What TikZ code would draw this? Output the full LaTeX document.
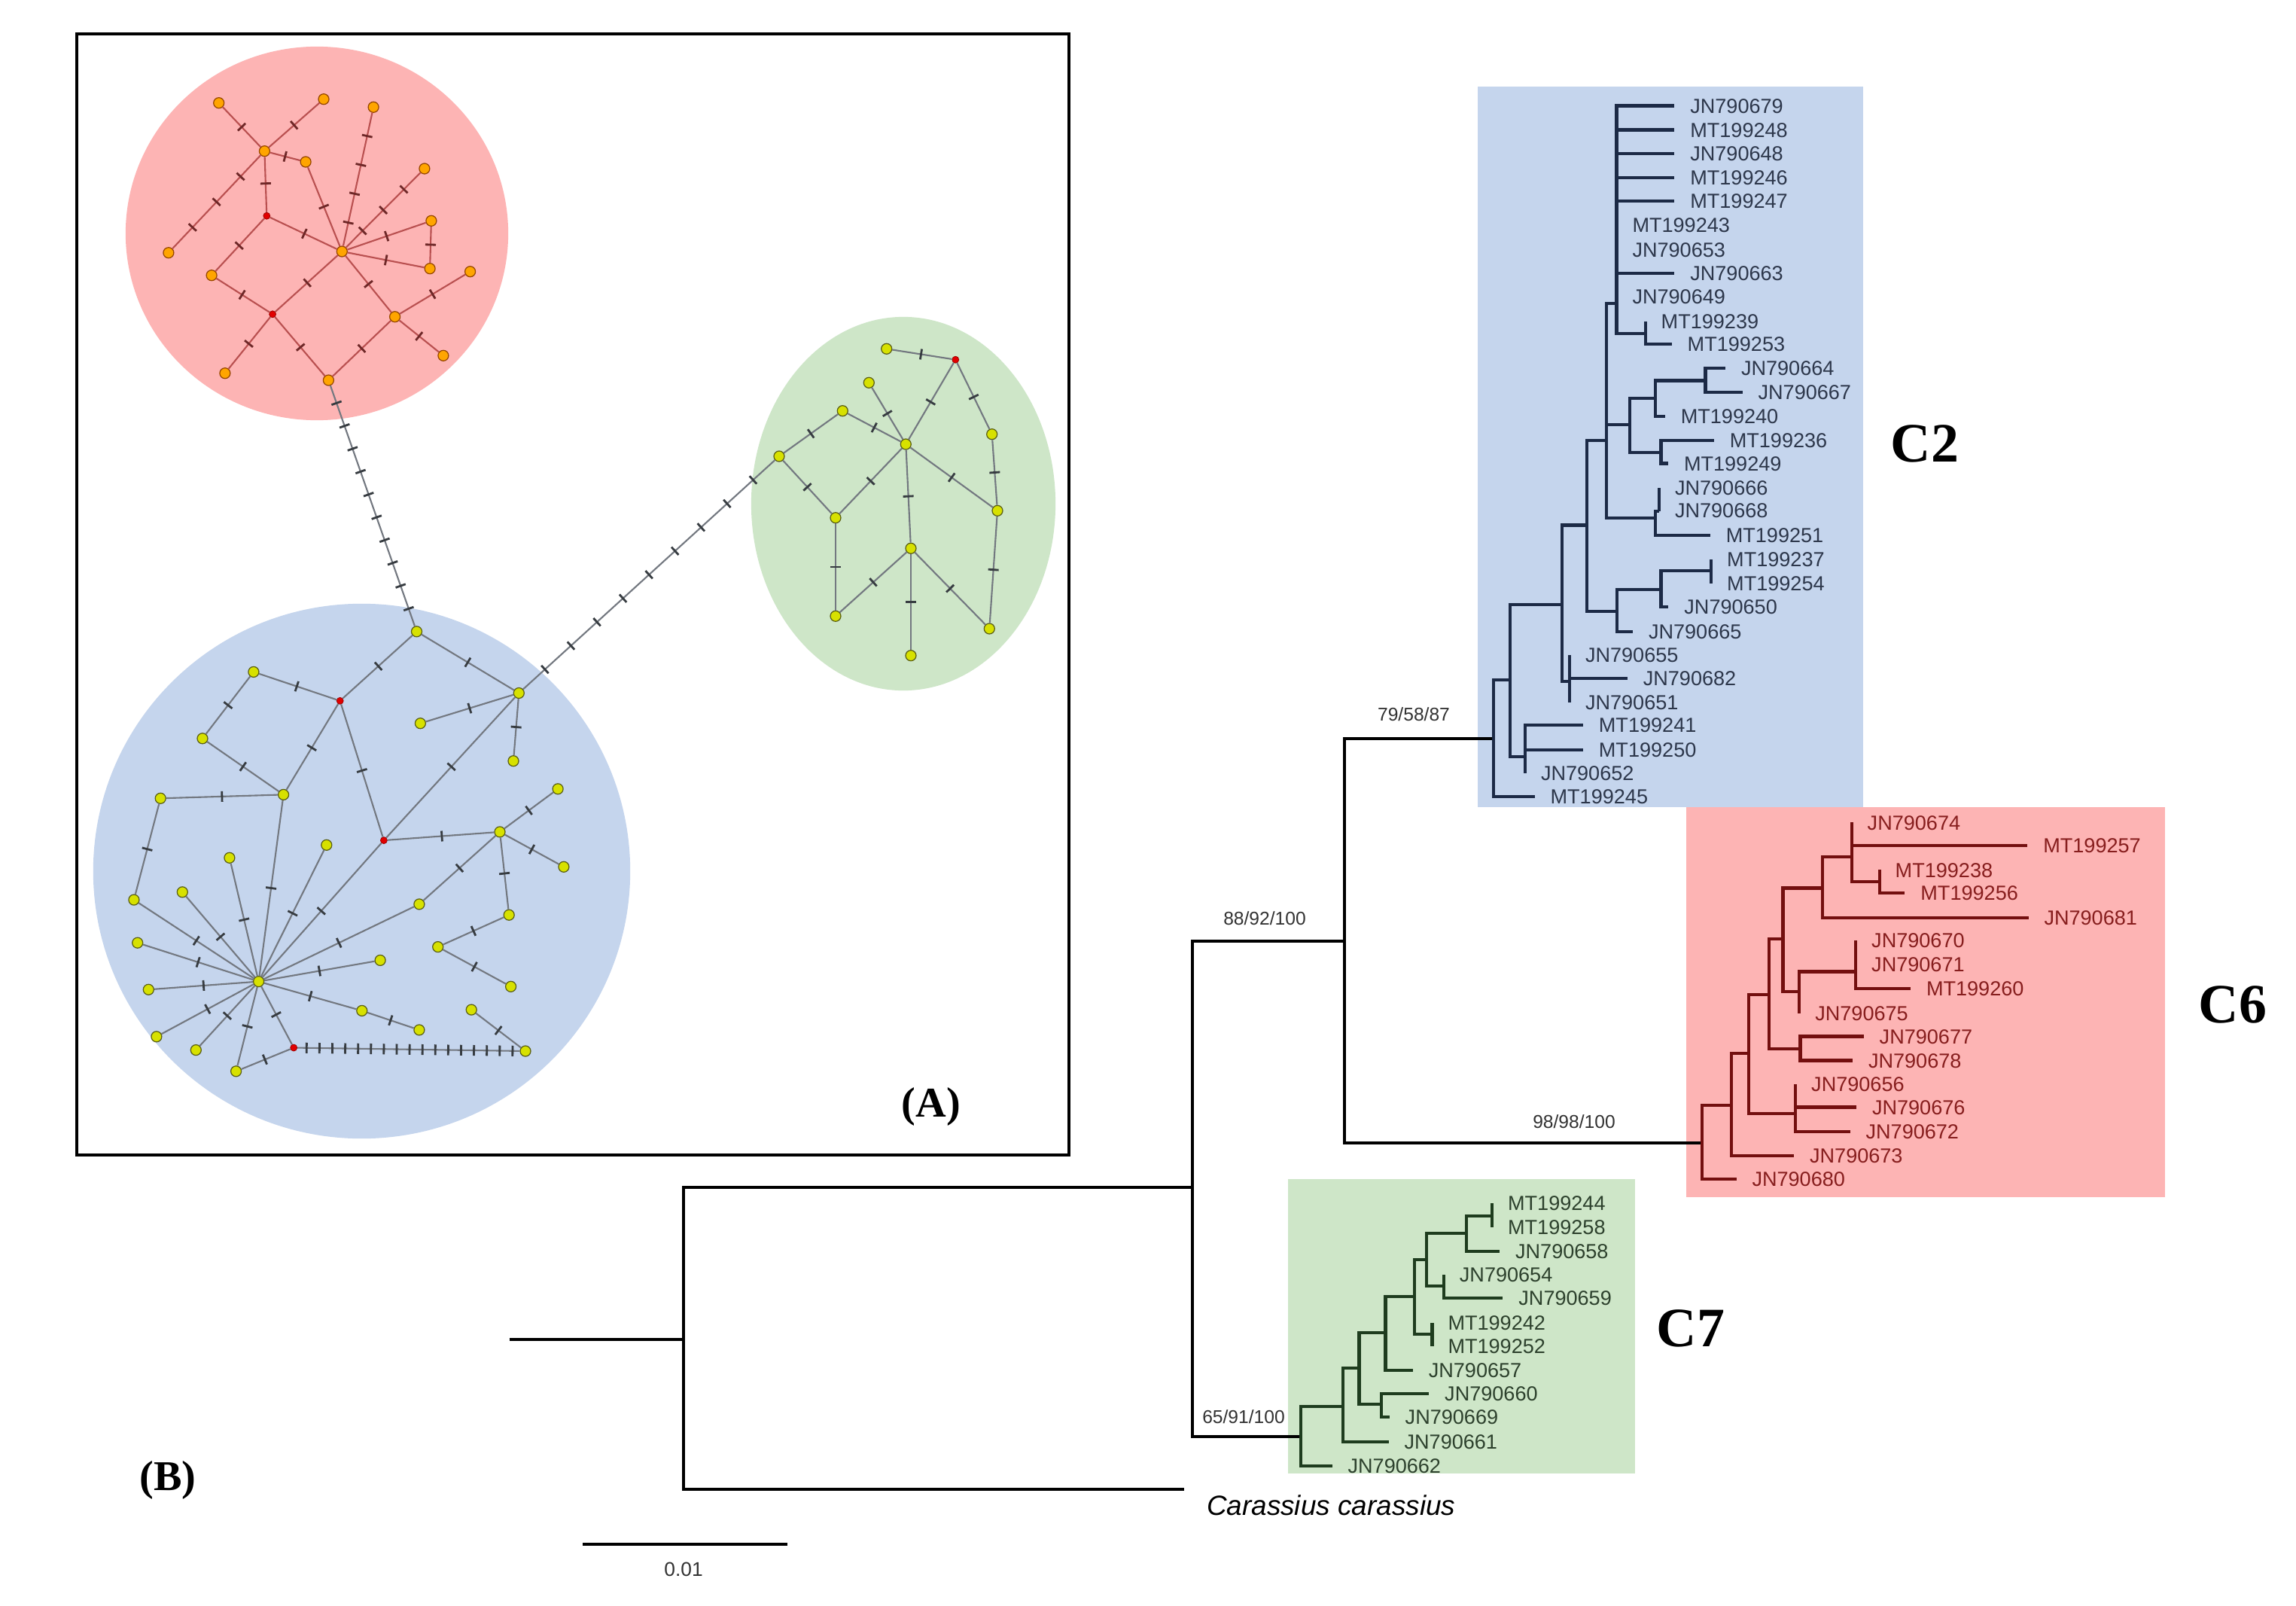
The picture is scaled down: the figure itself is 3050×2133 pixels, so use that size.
\documentclass[tikz,border=0pt]{standalone}
\usepackage{fontspec}
\newfontfamily\lsans{Liberation Sans}
\newfontfamily\lserif{Liberation Serif}
\usetikzlibrary{calc}
\definecolor{bgblue}{RGB}{197,213,237}
\definecolor{bgpink}{RGB}{253,180,180}
\definecolor{bggreen}{RGB}{206,230,200}
\definecolor{c2col}{RGB}{28,42,70}
\definecolor{c2txt}{RGB}{45,55,75}
\definecolor{c6col}{RGB}{115,15,15}
\definecolor{c6txt}{RGB}{135,30,30}
\definecolor{c7col}{RGB}{30,60,30}
\definecolor{c7txt}{RGB}{45,65,45}
\definecolor{orangefill}{RGB}{255,165,0}
\definecolor{orangeedge}{RGB}{150,70,0}
\definecolor{yelfill}{RGB}{215,225,0}
\definecolor{yeledge}{RGB}{90,95,20}
\definecolor{mvred}{RGB}{225,0,0}
\definecolor{redline}{RGB}{185,80,80}
\definecolor{redtick}{RGB}{110,40,40}
\definecolor{grayline}{RGB}{115,120,128}
\definecolor{graytick}{RGB}{55,60,65}
\definecolor{suptxt}{RGB}{50,50,50}

\newcommand\hedge[4]{%
  \draw[#1] (#2) -- (#3);
  \foreach \i in {1,...,#4}{%
    \coordinate (tk) at ($(#2)!{\i/(#4+1)}!(#3)$);
    \draw[#1tick] ($(tk)!0.07cm!90:(#3)$) -- ($(tk)!0.07cm!-90:(#3)$);
  }%
}

\tikzset{
  redge/.style={draw=redline, line width=0.6pt},
  redgetick/.style={draw=redtick, line width=0.8pt},
  gedge/.style={draw=grayline, line width=0.6pt},
  gedgetick/.style={draw=graytick, line width=0.8pt},
  hapo/.style={circle, draw=orangeedge, fill=orangefill, line width=0.35pt, inner sep=0pt, minimum size=0.14cm},
  hapy/.style={circle, draw=yeledge, fill=yelfill, line width=0.35pt, inner sep=0pt, minimum size=0.14cm},
  mv/.style={circle, draw=red!60!black, fill=mvred, line width=0.2pt, inner sep=0pt, minimum size=0.09cm},
  leaf/.style={anchor=west, inner xsep=0.21cm, inner ysep=0pt, outer sep=0pt, text height=5.5pt, text depth=0pt, font=\lsans\fontsize{7.7}{8}\selectfont},
  lfc2/.style={leaf, text=c2txt},
  lfc6/.style={leaf, text=c6txt},
  lfc7/.style={leaf, text=c7txt},
  brmain/.style={draw=black, line width=0.04cm},
  brc2/.style={draw=c2col, line width=0.042cm},
  brc6/.style={draw=c6col, line width=0.042cm},
  brc7/.style={draw=c7col, line width=0.042cm},
  sup/.style={text=suptxt, inner sep=0pt, font=\lsans\fontsize{7}{8}\selectfont},
  clab/.style={inner sep=0pt, font=\lserif\bfseries\fontsize{21}{24}\selectfont},
  plab/.style={inner sep=0pt, font=\lserif\bfseries\fontsize{16}{18}\selectfont}
}

\begin{document}
\begin{tikzpicture}[x=0.01cm, y=-0.01cm]
\useasboundingbox (0,0) rectangle (3050,2133);
\fill[white] (0,0) rectangle (3050,2133);

% ================= Panel A =================
\fill[bgpink] (421,310) ellipse [x radius=2.54cm, y radius=2.48cm];
\fill[bggreen] (1200,669) ellipse [x radius=2.02cm, y radius=2.48cm];
\fill[bgblue] (480.5,1157) ellipse [x radius=3.565cm, y radius=3.55cm];
\draw[line width=0.035cm] (102,45) rectangle (1420,1534);

% red cluster nodes
\node[hapo] (r1) at (290.7,136.7) {};
\node[hapo] (r2) at (430,131.7) {};
\node[hapo] (r3) at (496.1,142.3) {};
\node[hapo] (rA) at (351.4,200.7) {};
\node[hapo] (r5) at (406.1,215) {};
\node[hapo] (r6) at (563.9,224) {};
\node[mv]   (rm1) at (354.3,286.7) {};
\node[hapo] (r8) at (572.9,293.3) {};
\node[hapo] (r9) at (223.9,335.7) {};
\node[hapo] (rB) at (454.3,334) {};
\node[hapo] (r11) at (571.1,356.7) {};
\node[hapo] (r12) at (281.1,365.7) {};
\node[hapo] (r13) at (624.6,360.7) {};
\node[mv]   (rm2) at (362.1,417.3) {};
\node[hapo] (r15) at (524.6,420.7) {};
\node[hapo] (r16) at (298.9,495.7) {};
\node[hapo] (r17) at (588.9,472.3) {};
\node[hapo] (r18) at (436.4,505) {};

% green cluster nodes
\node[hapy] (g1) at (1177.7,463.3) {};
\node[mv]   (gR) at (1269.3,477.7) {};
\node[hapy] (g2) at (1154.3,508.3) {};
\node[hapy] (g3) at (1119.3,545.7) {};
\node[hapy] (g4) at (1317.7,576.7) {};
\node[hapy] (gH) at (1203.3,590) {};
\node[hapy] (g5) at (1035,606) {};
\node[hapy] (g6) at (1325,678.3) {};
\node[hapy] (g7) at (1110,687.7) {};
\node[hapy] (g8) at (1210,728.3) {};
\node[hapy] (g9) at (1110,818.3) {};
\node[hapy] (g10) at (1314.3,835) {};
\node[hapy] (g11) at (1210,870.7) {};

% blue cluster nodes
\node[hapy] (b1) at (553.5,838.8) {};
\node[hapy] (b2) at (689.3,920.5) {};
\node[mv]   (bR1) at (451.7,930.8) {};
\node[hapy] (b3) at (336.9,892.4) {};
\node[hapy] (b4) at (558.4,960.7) {};
\node[hapy] (b5) at (682,1010.7) {};
\node[hapy] (b6) at (269,980.8) {};
\node[hapy] (b7) at (376.6,1055.4) {};
\node[hapy] (b8) at (213.2,1060.3) {};
\node[hapy] (b9) at (741.1,1047.8) {};
\node[mv]   (bR2) at (509.9,1116.1) {};
\node[hapy] (b10) at (664,1104.9) {};
\node[hapy] (b11) at (433.8,1122.3) {};
\node[hapy] (b12) at (304.9,1139.3) {};
\node[hapy] (b13) at (748.9,1151.3) {};
\node[hapy] (b14) at (242.3,1184.8) {};
\node[hapy] (b15) at (177.9,1195.1) {};
\node[hapy] (b16) at (556.9,1200.9) {};
\node[hapy] (b17) at (676.2,1215.2) {};
\node[hapy] (b18) at (182.7,1252.2) {};
\node[hapy] (b19) at (581.7,1257.6) {};
\node[hapy] (b20) at (505.1,1275.4) {};
\node[hapy] (bH) at (343.6,1303.6) {};
\node[hapy] (b21) at (197.3,1314.3) {};
\node[hapy] (b22) at (678.6,1310.3) {};
\node[hapy] (b23) at (480.8,1342.4) {};
\node[hapy] (b24) at (626.2,1341.1) {};
\node[hapy] (b25) at (556.9,1367.9) {};
\node[hapy] (b26) at (207.9,1376.8) {};
\node[hapy] (b27) at (260.3,1394.6) {};
\node[mv]   (bR3) at (390.2,1391.5) {};
\node[hapy] (b28) at (698,1396) {};
\node[hapy] (b29) at (313.6,1422.8) {};

% red cluster edges
\foreach \a/\b/\k in {r1/rA/1, r2/rA/1, rA/r5/1, rA/r9/3, rA/rm1/1, rm1/rB/1, rm1/r12/1,
  r5/rB/1, r3/rB/4, r6/rB/3, r8/rB/1, r8/r11/1, r11/rB/1, rB/rm2/1, rB/r15/1,
  r12/rm2/1, rm2/r16/1, rm2/r18/1, r18/r15/1, r15/r13/1, r15/r17/1}
  {\hedge{redge}{\a}{\b}{\k}}

% green cluster edges
\foreach \a/\b/\k in {g1/gR/1, gR/gH/1, gR/g4/1, g2/gH/1, g3/gH/1, g5/g3/1, g5/g7/1,
  g7/gH/1, gH/g8/1, gH/g6/1, g4/g6/1, g6/g10/1, g7/g9/1, g9/g8/1, g8/g11/1, g8/g10/1}
  {\hedge{gedge}{\a}{\b}{\k}}

% blue cluster edges
\foreach \a/\b/\k in {b1/bR1/1, b1/b2/1, b3/bR1/1, b3/b6/1, b6/b7/1, bR1/b7/1, bR1/bR2/1,
  b4/b2/1, b2/b5/1, b2/bR2/1, b8/b7/1, b8/b15/1, bR2/b10/1, b10/b9/1, b10/b13/1,
  b10/b16/1, b10/b17/1, b17/b19/1, b19/b22/1, b24/b28/1, b7/bH/1, bR2/bH/1, b11/bH/1,
  b12/bH/1, b14/bH/1, b15/bH/1, b18/bH/1, b21/bH/1, b26/bH/1, b27/bH/1, b29/bH/1,
  bH/bR3/1, bH/b16/1, bH/b20/1, bH/b23/1, b23/b25/1, bR3/b29/1, bR3/b28/17}
  {\hedge{gedge}{\a}{\b}{\k}}

% long connecting edges
\hedge{gedge}{r18}{b1}{10}
\hedge{gedge}{g5}{b2}{9}

\node[plab] (labA) at (1237,1470) {(A)};

% ================= Panel B =================
\fill[bgblue] (1963,115) rectangle (2475,1072);
\fill[bgpink] (2240,1072) rectangle (2876,1590);
\fill[bggreen] (1711,1566) rectangle (2172,1957);

% main tree
\coordinate (rootL) at (676.6,1778.6);
\coordinate (R) at (908,1778.6);
\coordinate (U) at (1583.7,1577);
\coordinate (V) at (1786,1249.6);
\coordinate (c2r) at (1984.3,981);
\coordinate (c6r) at (2261,1517.7);
\coordinate (c7r) at (1727.9,1907.5);
\node[anchor=west, inner xsep=0.3cm, inner ysep=0pt, outer sep=0pt, text height=7.6pt, text depth=0pt,
  font=\lsans\itshape\fontsize{10.5}{12}\selectfont] (carass) at (1573,1998.7) {Carassius carassius};
\coordinate (carend) at (1573,1978.4);
\draw[brmain] (rootL) -- (R);
\draw[brmain] (R) |- (U);
\draw[brmain] (R) |- (carend);
\draw[brmain] (U) |- (V);
\draw[brmain] (U) |- (c7r);
\draw[brmain] (V) |- (c2r);
\draw[brmain] (V) |- (c6r);

\node[sup] (s1) at (1878,949) {79/58/87};
\node[sup] (s2) at (1680,1220) {88/92/100};
\node[sup] (s3) at (2091,1490) {98/98/100};
\node[sup] (s4) at (1652,1882) {65/91/100};

% scale bar
\coordinate (sb1) at (774,2050.5);
\coordinate (sb2) at (1046,2050.5);
\draw[brmain] (sb1) -- (sb2);
\node[sup, font=\lsans\fontsize{7.5}{8}\selectfont] (sblab) at (908,2084) {0.01};

% ---------- C2 ----------
\coordinate (c2a) at (2005.7,903.3);
\coordinate (c2m) at (2026,1005);
\coordinate (c2b) at (2075,803.3);
\coordinate (c2c) at (2108.3,697.5);
\coordinate (c2d) at (2085,905);
\coordinate (c2e) at (2134,585);
\coordinate (c2f) at (2148.2,811.7);
\coordinate (c2g) at (2206.4,783.3);
\coordinate (c2h) at (2273.2,758.3);
\coordinate (comb) at (2147.5,403);
\coordinate (c2i) at (2164.6,564.3);
\coordinate (c2j) at (2198.6,688.3);
\coordinate (c2k) at (2204,679.3);
\coordinate (c2l) at (2198.6,528.6);
\coordinate (c2o) at (2265.4,505.4);
\coordinate (c2n) at (2206.4,601);
\coordinate (c2p) at (2185.7,442.9);

\node[lfc2] (JN790679) at (2224.3,140.4) {JN790679};
\node[lfc2] (MT199248) at (2224.3,172.5) {MT199248};
\node[lfc2] (JN790648) at (2224.3,204.3) {JN790648};
\node[lfc2] (MT199246) at (2224.3,235.7) {MT199246};
\node[lfc2] (MT199247) at (2224.3,267.1) {MT199247};
\node[lfc2] (MT199243) at (2147.5,299.3) {MT199243};
\node[lfc2] (JN790653) at (2147.5,331.4) {JN790653};
\node[lfc2] (JN790663) at (2224.3,363.2) {JN790663};
\node[lfc2] (JN790649) at (2147.5,393.6) {JN790649};
\node[lfc2] (MT199239) at (2185.7,426.8) {MT199239};
\node[lfc2] (MT199253) at (2220.7,457.1) {MT199253};
\node[lfc2] (JN790664) at (2292,489.3) {JN790664};
\node[lfc2] (JN790667) at (2314.6,520.7) {JN790667};
\node[lfc2] (MT199240) at (2211.8,552.9) {MT199240};
\node[lfc2] (MT199236) at (2276.8,584.6) {MT199236};
\node[lfc2] (MT199249) at (2216,615.4) {MT199249};
\node[lfc2] (JN790666) at (2204,648.3) {JN790666};
\node[lfc2] (JN790668) at (2204,678.3) {JN790668};
\node[lfc2] (MT199251) at (2271.8,711) {MT199251};
\node[lfc2] (MT199237) at (2273.2,743.3) {MT199237};
\node[lfc2] (MT199254) at (2273.2,775) {MT199254};
\node[lfc2] (JN790650) at (2216.4,805.7) {JN790650};
\node[lfc2] (JN790665) at (2169,839) {JN790665};
\node[lfc2] (JN790655) at (2085,870) {JN790655};
\node[lfc2] (JN790682) at (2161.8,901) {JN790682};
\node[lfc2] (JN790651) at (2085,933.3) {JN790651};
\node[lfc2] (MT199241) at (2102.9,963.3) {MT199241};
\node[lfc2] (MT199250) at (2102.9,996) {MT199250};
\node[lfc2] (JN790652) at (2026,1026.7) {JN790652};
\node[lfc2] (MT199245) at (2038.6,1058.3) {MT199245};

\foreach \p/\c in {c2r/c2a, c2r/MT199245.west, c2a/c2b, c2a/c2m,
  c2m/MT199241.west, c2m/MT199250.west, c2m/JN790652.west,
  c2b/c2c, c2b/c2d, c2d/JN790655.west, c2d/JN790682.west, c2d/JN790651.west,
  c2c/c2e, c2c/c2f, c2f/c2g, c2f/JN790665.west, c2g/c2h, c2g/JN790650.west,
  c2h/MT199237.west, c2h/MT199254.west,
  c2e/comb, c2e/c2i, c2e/c2j, c2j/c2k, c2j/MT199251.west,
  c2k/JN790666.west, c2k/JN790668.west,
  c2i/c2l, c2i/c2n, c2l/c2o, c2l/MT199240.west, c2o/JN790664.west, c2o/JN790667.west,
  c2n/MT199236.west, c2n/MT199249.west,
  comb/JN790679.west, comb/MT199248.west, comb/JN790648.west, comb/MT199246.west,
  comb/MT199247.west, comb/MT199243.west, comb/JN790653.west, comb/JN790663.west,
  comb/JN790649.west, comb/c2p, c2p/MT199239.west, c2p/MT199253.west}
  {\draw[brc2] (\p) |- (\c);}

% ---------- C6 ----------
\coordinate (c6a) at (2300.2,1467.7);
\coordinate (c6b) at (2322.9,1398.9);
\coordinate (c6c) at (2350.3,1320.7);
\coordinate (c6d) at (2385.2,1479.1);
\coordinate (c6e) at (2368.4,1247.3);
\coordinate (c6f) at (2391.5,1392.7);
\coordinate (c6g) at (2421,1179.5);
\coordinate (c6h) at (2390.3,1316.9);
\coordinate (c6i) at (2465.2,1290.4);
\coordinate (c6j) at (2459.7,1138.2);
\coordinate (c6k) at (2496.7,1170.6);

\node[lfc6] (JN790674) at (2459.7,1092.4) {JN790674};
\node[lfc6] (MT199257) at (2693.3,1122.7) {MT199257};
\node[lfc6] (MT199238) at (2496.7,1155.4) {MT199238};
\node[lfc6] (MT199256) at (2530.4,1186) {MT199256};
\node[lfc6] (JN790681) at (2694.5,1218.8) {JN790681};
\node[lfc6] (JN790670) at (2465.2,1249) {JN790670};
\node[lfc6] (JN790671) at (2465.2,1280.7) {JN790671};
\node[lfc6] (MT199260) at (2538,1312.8) {MT199260};
\node[lfc6] (JN790675) at (2390.3,1345.5) {JN790675};
\node[lfc6] (JN790677) at (2475.7,1376.5) {JN790677};
\node[lfc6] (JN790678) at (2461,1408.5) {JN790678};
\node[lfc6] (JN790656) at (2385.2,1440.2) {JN790656};
\node[lfc6] (JN790676) at (2466,1470.5) {JN790676};
\node[lfc6] (JN790672) at (2457.6,1503.2) {JN790672};
\node[lfc6] (JN790673) at (2383.1,1534.9) {JN790673};
\node[lfc6] (JN790680) at (2306.5,1565.9) {JN790680};

\foreach \p/\c in {c6r/c6a, c6r/JN790680.west, c6a/c6b, c6a/JN790673.west,
  c6b/c6c, c6b/c6d, c6d/JN790656.west, c6d/JN790676.west, c6d/JN790672.west,
  c6c/c6e, c6c/c6f, c6f/JN790677.west, c6f/JN790678.west,
  c6e/c6g, c6e/c6h, c6h/c6i, c6h/JN790675.west,
  c6i/JN790670.west, c6i/JN790671.west, c6i/MT199260.west,
  c6g/c6j, c6g/JN790681.west, c6j/JN790674.west, c6j/MT199257.west, c6j/c6k,
  c6k/MT199238.west, c6k/MT199256.west}
  {\draw[brc6] (\p) |- (\c);}

% ---------- C7 ----------
\coordinate (c7a) at (1783.9,1868.3);
\coordinate (c7b) at (1805.4,1817.3);
\coordinate (c7c) at (1840.4,1770);
\coordinate (c7d) at (1835,1865);
\coordinate (c7e) at (1878.6,1722.3);
\coordinate (c7g) at (1902.5,1771.7);
\coordinate (c7f) at (1894.6,1673.3);
\coordinate (c7i) at (1917.9,1708.3);
\coordinate (c7h) at (1948.2,1638.3);
\coordinate (c7j) at (1982.1,1615);

\node[lfc7] (MT199244) at (1982.1,1598.3) {MT199244};
\node[lfc7] (MT199258) at (1982.1,1630) {MT199258};
\node[lfc7] (JN790658) at (1992.1,1661.7) {JN790658};
\node[lfc7] (JN790654) at (1917.9,1693.3) {JN790654};
\node[lfc7] (JN790659) at (1996.4,1724.3) {JN790659};
\node[lfc7] (MT199242) at (1902.5,1756.7) {MT199242};
\node[lfc7] (MT199252) at (1902.5,1788.3) {MT199252};
\node[lfc7] (JN790657) at (1876.8,1820) {JN790657};
\node[lfc7] (JN790660) at (1898.2,1851) {JN790660};
\node[lfc7] (JN790669) at (1845.7,1881.7) {JN790669};
\node[lfc7] (JN790661) at (1844.6,1915) {JN790661};
\node[lfc7] (JN790662) at (1769.6,1946.7) {JN790662};

\foreach \p/\c in {c7r/c7a, c7r/JN790662.west, c7a/c7b, c7a/JN790661.west,
  c7b/c7c, c7b/c7d, c7d/JN790660.west, c7d/JN790669.west,
  c7c/c7e, c7c/JN790657.west, c7e/c7f, c7e/c7g,
  c7g/MT199242.west, c7g/MT199252.west, c7f/c7h, c7f/c7i,
  c7i/JN790654.west, c7i/JN790659.west, c7h/c7j, c7h/JN790658.west,
  c7j/MT199244.west, c7j/MT199258.west}
  {\draw[brc7] (\p) |- (\c);}

% clade labels
\node[clab] (C2) at (2557,589) {C2};
\node[clab] (C6) at (2966,1334) {C6};
\node[clab] (C7) at (2246,1764) {C7};
\node[plab] (labB) at (223,1966) {(B)};
\end{tikzpicture}
\end{document}
